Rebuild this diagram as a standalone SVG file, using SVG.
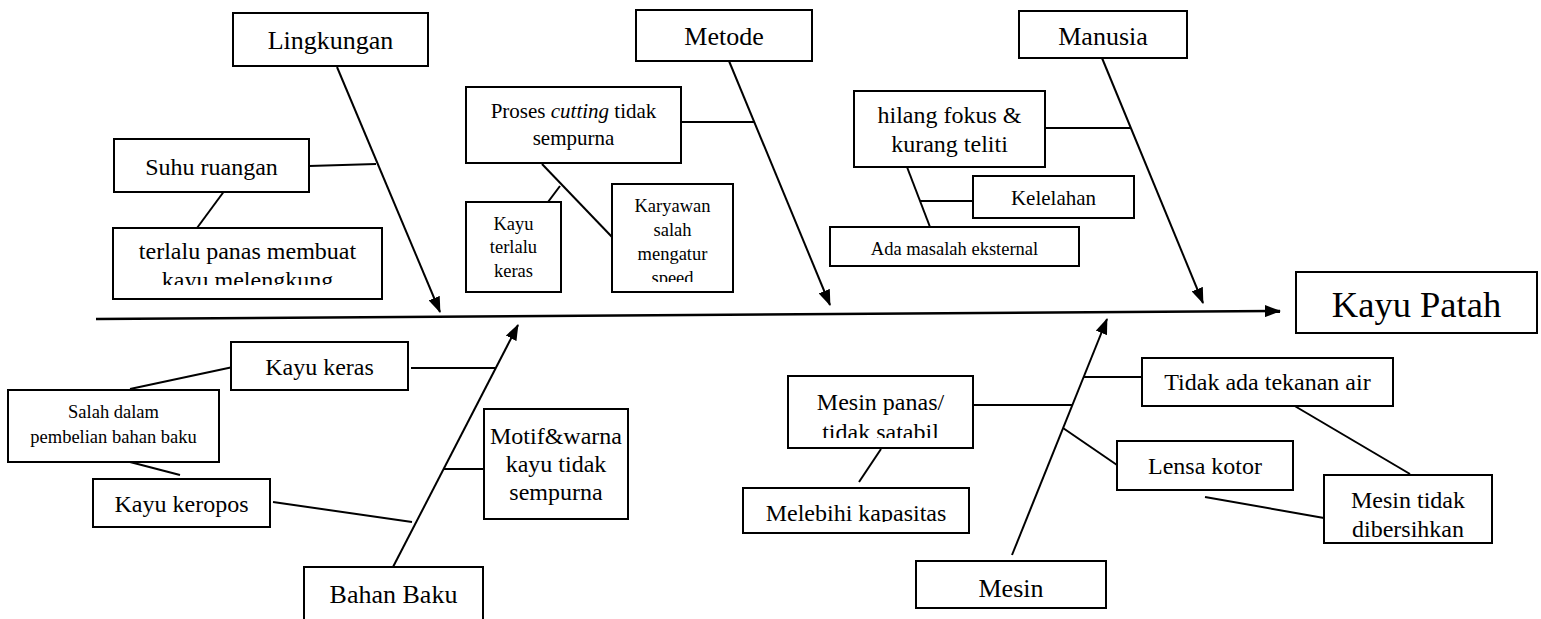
<svg xmlns="http://www.w3.org/2000/svg" width="1541" height="619" viewBox="0 0 1541 619" font-family="'Liberation Serif', 'Times New Roman', 'DejaVu Serif', serif">
<style>
.b{fill:#fff;stroke:#000;stroke-width:2}
.l{stroke:#000;stroke-width:2;fill:none}
.s{stroke:#000;stroke-width:2.5;fill:none}
text{font-family:'Liberation Serif','Times New Roman','DejaVu Serif',serif;fill:#000;text-anchor:middle}
.f26{font-size:26px}.f24{font-size:24px}.f21{font-size:21px}.f18{font-size:18.5px}.f36{font-size:36.5px}
</style>
<defs>
<marker id="ah" markerWidth="16" markerHeight="12" refX="15" refY="6" orient="auto" markerUnits="userSpaceOnUse"><path d="M0,0 L16,6 L0,12 z" fill="#000"/></marker>
<clipPath id="c1"><rect x="113" y="228" width="269" height="57"/></clipPath>
<clipPath id="c2"><rect x="612" y="184" width="121" height="98"/></clipPath>
<clipPath id="c3"><rect x="788" y="376" width="185" height="62"/></clipPath>
<clipPath id="c4"><rect x="743" y="488" width="226" height="34"/></clipPath>
</defs>
<g id="connectors">
<line class="s" x1="96" y1="319" x2="1280" y2="311" marker-end="url(#ah)"/>
<line class="l" x1="337" y1="67" x2="440" y2="312" marker-end="url(#ah)"/>
<line class="l" x1="729" y1="61" x2="830" y2="305" marker-end="url(#ah)"/>
<line class="l" x1="1102" y1="58" x2="1203" y2="303" marker-end="url(#ah)"/>
<line class="l" x1="393" y1="567" x2="518" y2="325" marker-end="url(#ah)"/>
<line class="l" x1="1012" y1="555" x2="1107" y2="319" marker-end="url(#ah)"/>
<line class="l" x1="309" y1="166" x2="376" y2="164"/>
<line class="l" x1="225" y1="190" x2="197" y2="228"/>
<line class="l" x1="681" y1="122" x2="754" y2="122"/>
<line class="l" x1="542" y1="164" x2="612" y2="237"/>
<line class="l" x1="548" y1="202" x2="560" y2="186"/>
<line class="l" x1="1045" y1="128" x2="1130" y2="128"/>
<line class="l" x1="907" y1="167" x2="930" y2="227"/>
<line class="l" x1="920" y1="201" x2="973" y2="201"/>
<line class="l" x1="411" y1="368" x2="495" y2="368"/>
<line class="l" x1="130" y1="389" x2="233" y2="367"/>
<line class="l" x1="130" y1="462" x2="180" y2="475"/>
<line class="l" x1="273" y1="502" x2="412" y2="522"/>
<line class="l" x1="443" y1="469" x2="484" y2="469"/>
<line class="l" x1="973" y1="405" x2="1073" y2="405"/>
<line class="l" x1="1084" y1="377" x2="1142" y2="377"/>
<line class="l" x1="1063" y1="428" x2="1117" y2="465"/>
<line class="l" x1="881" y1="449" x2="859" y2="482"/>
<line class="l" x1="1293" y1="405" x2="1410" y2="474"/>
<line class="l" x1="1205" y1="497" x2="1324" y2="518"/>
</g>
<g id="lingkungan"><rect class="b" x="233" y="13" width="195" height="53"/><text class="f26" x="330.5" y="49">Lingkungan</text></g>
<g id="suhu"><rect class="b" x="114" y="139" width="195" height="53"/><text class="f24" x="211.5" y="175">Suhu ruangan</text></g>
<g id="terlalu"><rect class="b" x="113" y="228" width="269" height="71"/><g clip-path="url(#c1)"><text class="f24" x="247.5" y="259">terlalu panas membuat</text><text class="f24" x="247.5" y="288">kayu melengkung</text></g></g>
<g id="metode"><rect class="b" x="636" y="10" width="176" height="51"/><text class="f26" x="724" y="45">Metode</text></g>
<g id="proses"><rect class="b" x="466" y="87" width="215" height="76"/><text class="f21" x="573.5" y="118">Proses <tspan font-style="italic">cutting</tspan> tidak</text><text class="f21" x="573.5" y="145">sempurna</text></g>
<g id="kayu-terlalu"><rect class="b" x="466" y="202" width="95" height="90"/><text class="f18" x="513.5" y="230">Kayu</text><text class="f18" x="513.5" y="253">terlalu</text><text class="f18" x="513.5" y="277">keras</text></g>
<g id="karyawan"><rect class="b" x="612" y="184" width="121" height="108"/><g clip-path="url(#c2)"><text class="f18" x="672.5" y="212">Karyawan</text><text class="f18" x="672.5" y="236">salah</text><text class="f18" x="672.5" y="260">mengatur</text><text class="f18" x="672.5" y="284">speed</text></g></g>
<g id="manusia"><rect class="b" x="1019" y="11" width="168" height="47"/><text class="f26" x="1103" y="45">Manusia</text></g>
<g id="hilang"><rect class="b" x="854" y="91" width="191" height="76"/><text class="f24" x="949.5" y="123">hilang fokus &amp;</text><text class="f24" x="949.5" y="152">kurang teliti</text></g>
<g id="kelelahan"><rect class="b" x="973" y="176" width="161" height="42"/><text class="f21" x="1053.5" y="205">Kelelahan</text></g>
<g id="ada"><rect class="b" x="830" y="227" width="249" height="39"/><text class="f18" x="954.5" y="255">Ada masalah eksternal</text></g>
<g id="kayu-patah"><rect class="b" x="1296" y="272" width="241" height="61"/><text class="f36" x="1416.5" y="317">Kayu Patah</text></g>
<g id="bahan-baku"><rect class="b" x="304" y="567" width="179" height="60"/><text class="f26" x="393.5" y="603">Bahan Baku</text></g>
<g id="kayu-keras"><rect class="b" x="231" y="342" width="177" height="48"/><text class="f24" x="319.5" y="375">Kayu keras</text></g>
<g id="salah"><rect class="b" x="8" y="390" width="211" height="72"/><text class="f18" x="113.5" y="418">Salah dalam</text><text class="f18" x="113.5" y="443">pembelian bahan baku</text></g>
<g id="kayu-keropos"><rect class="b" x="93" y="479" width="177" height="48"/><text class="f24" x="181.5" y="512">Kayu keropos</text></g>
<g id="motif"><rect class="b" x="484" y="409" width="144" height="110"/><text class="f24" x="556" y="444">Motif&amp;warna</text><text class="f24" x="556" y="472">kayu tidak</text><text class="f24" x="556" y="500">sempurna</text></g>
<g id="mesin"><rect class="b" x="916" y="561" width="190" height="47"/><text class="f26" x="1011" y="597">Mesin</text></g>
<g id="mesin-panas"><rect class="b" x="788" y="376" width="185" height="72"/><g clip-path="url(#c3)"><text class="f24" x="880.5" y="410">Mesin panas/</text><text class="f24" x="880.5" y="440">tidak satabil</text></g></g>
<g id="melebihi"><rect class="b" x="743" y="488" width="226" height="45"/><g clip-path="url(#c4)"><text class="f24" x="856" y="521">Melebihi kapasitas</text></g></g>
<g id="tidak-ada"><rect class="b" x="1142" y="358" width="251" height="48"/><text class="f24" x="1267.5" y="390">Tidak ada tekanan air</text></g>
<g id="lensa"><rect class="b" x="1117" y="441" width="176" height="49"/><text class="f24" x="1205" y="474">Lensa kotor</text></g>
<g id="mesin-tidak"><rect class="b" x="1324" y="475" width="168" height="68"/><text class="f24" x="1408" y="508">Mesin tidak</text><text class="f24" x="1408" y="537">dibersihkan</text></g>
</svg>
